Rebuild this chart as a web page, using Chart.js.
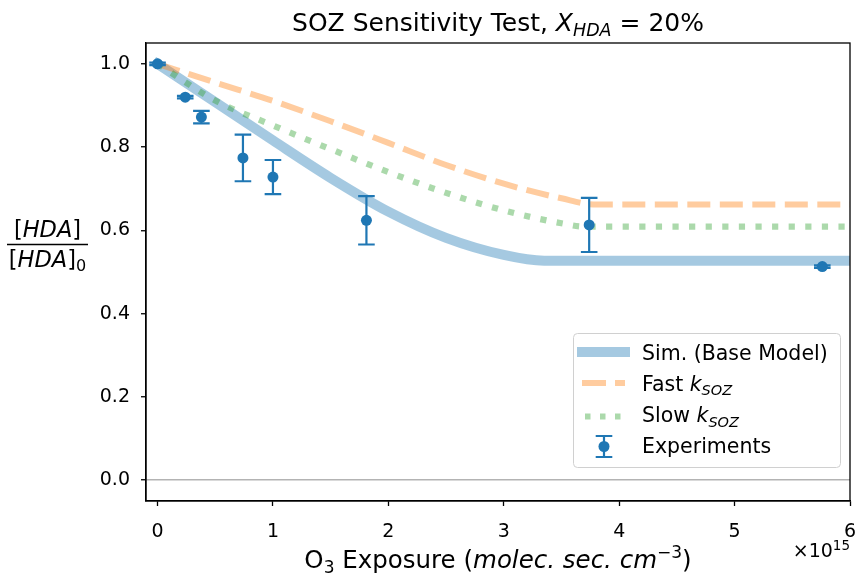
<!DOCTYPE html>
<html>
<head>
<meta charset="utf-8">
<script src="https://cdn.jsdelivr.net/npm/chart.js@4.4.1/dist/chart.umd.min.js"></script>
<style>
  html, body { margin: 0; padding: 0; background: #ffffff; }
  #wrap { width: 856px; height: 573px; }
</style>
</head>
<body>
<div id="wrap"><canvas id="chart" width="856" height="573"></canvas></div>
<script>
// Simulation curves (x in units of 1e15 molec.sec.cm-3)
const simX = [0, 0.5, 1.0, 1.5, 2.0, 2.5, 3.0, 3.35, 4.0, 5.0, 6.0];
const simY = [1.0, 0.908, 0.816, 0.726, 0.645, 0.582, 0.541, 0.527, 0.527, 0.527, 0.527];

const fastX = [0, 0.5, 1.0, 1.5, 2.0, 2.5, 3.0, 3.5, 3.8, 5.0, 6.0];
const fastY = [1.0, 0.955, 0.911, 0.862, 0.81, 0.757, 0.712, 0.677, 0.662, 0.662, 0.662];

const slowX = [0, 0.5, 1.0, 1.5, 2.0, 2.5, 3.0, 3.5, 3.7, 5.0, 6.0];
const slowY = [1.0, 0.912, 0.852, 0.795, 0.74, 0.69, 0.648, 0.617, 0.609, 0.609, 0.609];

// Experiments + error
const expX = [0, 0.24, 0.38, 0.74, 1.0, 1.81, 3.74, 5.76];
const expY = [1.0, 0.92, 0.872, 0.774, 0.728, 0.624, 0.613, 0.513];
const expErr = [0.003, 0.003, 0.015, 0.056, 0.041, 0.058, 0.065, 0.003];

// Ticks
const xTicks = [0, 1, 2, 3, 4, 5, 6];
const yTicks = [0.0, 0.2, 0.4, 0.6, 0.8, 1.0];

const FONT = "'DejaVu Sans', sans-serif";
const BLUE = '#1f77b4';

const toPts = (xs, ys) => xs.map((x, i) => ({ x: x, y: ys[i] }));

// texto con subindices / cursiva
function richText(ctx, parts, x, y, align) {
    let w = 0;
    parts.forEach(p => {
        ctx.font = (p[2] ? 'italic ' : '') + p[1] + 'px ' + FONT;
        p.w = ctx.measureText(p[0]).width;
        w += p.w;
    });
    let cx = align === 'center' ? x - w / 2 : (align === 'right' ? x - w : x);
    ctx.textAlign = 'left';
    ctx.textBaseline = 'alphabetic';
    ctx.fillStyle = '#000';
    parts.forEach(p => {
        ctx.font = (p[2] ? 'italic ' : '') + p[1] + 'px ' + FONT;
        ctx.fillText(p[0], cx, y + (p[3] || 0));
        cx += p.w;
    });
}

function errBar(ctx, px, yTop, yBot, cap) {
    ctx.beginPath();
    ctx.moveTo(px, yTop); ctx.lineTo(px, yBot);
    ctx.moveTo(px - cap, yTop); ctx.lineTo(px + cap, yTop);
    ctx.moveTo(px - cap, yBot); ctx.lineTo(px + cap, yBot);
    ctx.stroke();
}

const decor = {
    id: 'decor',
    afterDatasetsDraw(chart) {
        const ctx = chart.ctx;
        const xs = chart.scales.x, ys = chart.scales.y;
        const a = chart.chartArea;
        ctx.save();
        ctx.beginPath();
        ctx.rect(a.left, a.top, a.right - a.left, a.bottom - a.top);
        ctx.clip();
        ctx.strokeStyle = BLUE;
        ctx.lineWidth = 2.2;
        expX.forEach((x, i) => {
            errBar(ctx, xs.getPixelForValue(x),
                ys.getPixelForValue(expY[i] + expErr[i]),
                ys.getPixelForValue(expY[i] - expErr[i]), 8.3);
        });
        ctx.restore();
    },
    afterDraw(chart) {
        const ctx = chart.ctx;
        const a = chart.chartArea;
        ctx.save();
        // marco
        ctx.strokeStyle = '#000';
        ctx.lineWidth = 1.3;
        ctx.strokeRect(a.left, a.top, a.right - a.left, a.bottom - a.top);

        // leyenda
        ctx.beginPath();
        ctx.roundRect(573.5, 333.5, 267, 134, 4);
        ctx.fillStyle = 'rgba(255,255,255,0.8)';
        ctx.fill();
        ctx.strokeStyle = '#d0d0d0';
        ctx.lineWidth = 1;
        ctx.stroke();

        ctx.lineCap = 'square';
        ctx.strokeStyle = 'rgba(31,119,180,0.4)';
        ctx.lineWidth = 10;
        ctx.beginPath(); ctx.moveTo(582, 352); ctx.lineTo(625, 352); ctx.stroke();

        ctx.lineCap = 'butt';
        ctx.strokeStyle = 'rgba(255,127,14,0.4)';
        ctx.lineWidth = 6;
        ctx.setLineDash([24, 9]);
        ctx.beginPath(); ctx.moveTo(582, 383); ctx.lineTo(625, 383); ctx.stroke();

        ctx.strokeStyle = 'rgba(44,160,44,0.4)';
        ctx.setLineDash([5.5, 9.5]);
        ctx.lineDashOffset = -3;
        ctx.beginPath(); ctx.moveTo(582, 416.5); ctx.lineTo(625, 416.5); ctx.stroke();
        ctx.setLineDash([]);
        ctx.lineDashOffset = 0;

        ctx.strokeStyle = BLUE;
        ctx.lineWidth = 2.2;
        errBar(ctx, 604, 436, 457, 8.3);
        ctx.fillStyle = BLUE;
        ctx.beginPath(); ctx.arc(604, 446.5, 5.5, 0, Math.PI * 2); ctx.fill();

        richText(ctx, [['Sim. (Base Model)', 20.5]], 642, 359.5, 'left');
        richText(ctx, [['Fast ', 20.5], ['k', 20.5, true], ['SOZ', 14.5, true, 4.5]], 642, 390.5, 'left');
        richText(ctx, [['Slow ', 20.5], ['k', 20.5, true], ['SOZ', 14.5, true, 4.5]], 642, 422, 'left');
        richText(ctx, [['Experiments', 20.5]], 642, 453, 'left');

        // titulo y ejes
        const cx = (a.left + a.right) / 2;
        richText(ctx, [['SOZ Sensitivity Test, ', 25], ['X', 25, true], ['HDA', 17.5, true, 5],
            [' = 20%', 25]], cx, 31, 'center');
        richText(ctx, [['O', 24.5], ['3', 17, false, 4.5], [' Exposure (', 24.5], ['molec. sec. cm', 24.5, true],
            ['\u22123', 17, false, -10], [')', 24.5]], cx, 568, 'center');
        richText(ctx, [['\u00d710', 19], ['15', 13.5, false, -7.5]], a.right, 557, 'right');

        richText(ctx, [['[', 22.5], ['HDA', 22.5, true], [']', 22.5]], 47.5, 237, 'center');
        ctx.strokeStyle = '#000';
        ctx.lineWidth = 1.3;
        ctx.beginPath(); ctx.moveTo(7, 244.5); ctx.lineTo(88, 244.5); ctx.stroke();
        richText(ctx, [['[', 22.5], ['HDA', 22.5, true], [']', 22.5], ['0', 16, false, 3.5]], 47.5, 267, 'center');
        ctx.restore();
    }
};

new Chart(document.getElementById('chart').getContext('2d'), {
    type: 'line',
    data: {
        datasets: [
            {
                label: 'Experiments',
                type: 'scatter',
                data: toPts(expX, expY),
                pointRadius: 5.5,
                pointHoverRadius: 5.5,
                pointBackgroundColor: BLUE,
                pointBorderWidth: 0,
                showLine: false,
                order: 0
            },
            {
                label: 'Slow kSOZ',
                data: toPts(slowX, slowY),
                borderColor: 'rgba(44,160,44,0.4)',
                borderWidth: 6.2,
                borderDash: [6.2, 10.4],
                borderCapStyle: 'butt',
                cubicInterpolationMode: 'monotone',
                pointRadius: 0,
                fill: false,
                order: 1
            },
            {
                label: 'Fast kSOZ',
                data: toPts(fastX, fastY),
                borderColor: 'rgba(255,127,14,0.4)',
                borderWidth: 6,
                borderDash: [23, 9.5],
                borderCapStyle: 'butt',
                cubicInterpolationMode: 'monotone',
                pointRadius: 0,
                fill: false,
                order: 2
            },
            {
                label: 'Sim. (Base Model)',
                data: toPts(simX, simY),
                borderColor: 'rgba(31,119,180,0.4)',
                borderWidth: 10,
                borderCapStyle: 'square',
                cubicInterpolationMode: 'monotone',
                pointRadius: 0,
                fill: false,
                order: 3
            }
        ]
    },
    options: {
        responsive: false,
        animation: false,
        events: [],
        layout: { padding: { top: 43, right: 6, left: 0, bottom: 0 } },
        plugins: {
            legend: { display: false },
            title: { display: false },
            tooltip: { enabled: false }
        },
        scales: {
            x: {
                type: 'linear',
                min: -0.1,
                max: 6,
                afterBuildTicks: s => { s.ticks = xTicks.map(v => ({ value: v })); },
                afterFit: s => { s.height = 72; s.paddingLeft = 0; s.paddingRight = 0; },
                ticks: {
                    color: '#000',
                    font: { family: FONT, size: 19 },
                    padding: 15,
                    maxRotation: 0,
                    callback: v => String(v)
                },
                grid: {
                    drawOnChartArea: false,
                    tickLength: 5,
                    tickColor: '#000',
                    tickWidth: 1.3
                },
                border: { color: '#000', width: 1.3 }
            },
            y: {
                type: 'linear',
                min: -0.05,
                max: 1.05,
                afterBuildTicks: s => { s.ticks = yTicks.map(v => ({ value: v })); },
                afterFit: s => { s.width = 146; s.paddingTop = 0; s.paddingBottom = 0; },
                ticks: {
                    color: '#000',
                    font: { family: FONT, size: 19 },
                    padding: 11,
                    callback: v => v.toFixed(1)
                },
                grid: {
                    color: c => (c.tick && c.tick.value === 0 ? '#b3b3b3' : 'rgba(0,0,0,0)'),
                    lineWidth: 1.5,
                    tickLength: 5,
                    tickColor: '#000',
                    tickWidth: 1.3
                },
                border: { color: '#000', width: 1.3 }
            }
        }
    },
    plugins: [decor]
});
</script>
</body>
</html>
